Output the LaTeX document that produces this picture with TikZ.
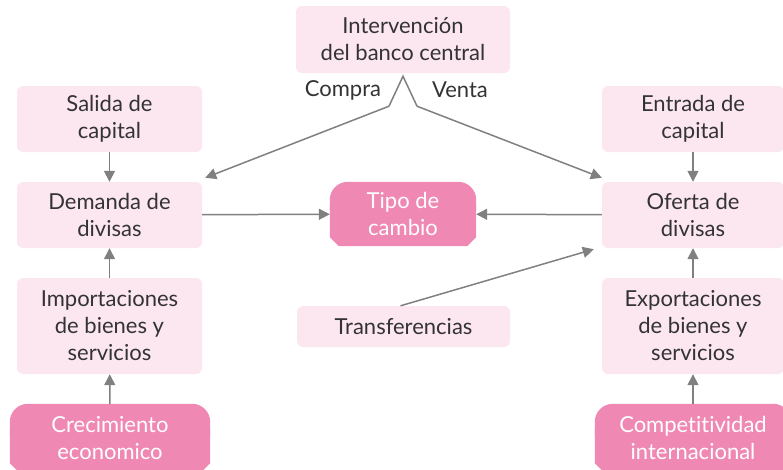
\documentclass[tikz,border=0pt]{standalone}
\usepackage{fontspec}
\setmainfont{Lato}[Ligatures=NoCommon]
\usepackage{tikz}
\usetikzlibrary{arrows.meta}
\usetikzlibrary{positioning}
\usetikzlibrary{backgrounds}
\definecolor{rosa}{HTML}{FCE7F0}
\definecolor{fucsia}{HTML}{F088B4}
\definecolor{flecha}{HTML}{808080}
\definecolor{texto}{HTML}{333333}
\tikzset{
  letra/.style={font=\fontsize{22}{27}\selectfont},
  caja/.style={letra, fill=rosa, rounded corners=6pt, align=center, text=texto, inner sep=0pt},
  fuerte/.style={letra, align=center, text=white, inner sep=0pt},
  flechita/.style={draw=flecha, line width=1.5pt, -{Triangle[length=11pt,width=11pt]}},
}

\begin{document}
\begin{tikzpicture}[x=1pt, y=-1pt] % Tipo de cambio y divisas

      \useasboundingbox (0,0) rectangle (783,469);
      \clip (0,0) rectangle (783,469);

      % columna izquierda
      \node [caja, minimum width=185pt, minimum height=66pt] (salida) at (109.5,119) {Salida de\\capital};
      \node [caja, minimum width=185pt, minimum height=66pt] (demanda) at (109.5,215) {Demanda de\\divisas};
      \node [caja, minimum width=185pt, minimum height=96pt] (import) at (109.5,326) {Importaciones\\de bienes y\\servicios};
      \node [fuerte, minimum width=200pt, minimum height=68pt] (crec) at (110,438) {Crecimiento\\economico};

      % columna derecha
      \node [caja, minimum width=182pt, minimum height=66pt] (entrada) at (693,119) {Entrada de\\capital};
      \node [caja, minimum width=182pt, minimum height=66pt] (oferta) at (693,215) {Oferta de\\divisas};
      \node [caja, minimum width=182pt, minimum height=96pt] (export) at (693,326) {Exportaciones\\de bienes y\\servicios};
      \node [fuerte, minimum width=196pt, minimum height=68pt] (compet) at (693,438) {Competitividad\\internacional};

      % centro
      \node [caja, minimum width=214pt, minimum height=67pt] (interv) at (403,39.5) {Intervención\\del banco central};
      \node [fuerte, minimum width=146pt, minimum height=64pt] (tipo) at (403,214) {Tipo de\\cambio};
      \node [caja, minimum width=213pt, minimum height=41pt] (transf) at (403.5,326.5) {Transferencias};
      \node [letra, text=texto] (compra) at (343,90) {Compra};
      \node [letra, text=texto] (venta) at (460,90) {Venta};

      \begin{scope}[on background layer]
        \foreach \n in {tipo, crec, compet} {
          \fill [fucsia, rounded corners=18pt] (\n.north west) rectangle ([yshift=20pt]\n.south east);
          \fill [fucsia] ([yshift=42pt]\n.south west) -- ([yshift=9pt]\n.south west)
            -- ([xshift=9pt]\n.south west) -- ([xshift=-9pt]\n.south east)
            -- ([yshift=9pt]\n.south east) -- ([yshift=42pt]\n.south east) -- cycle;
        }
      \end{scope}

      % flechas
      \draw [flechita] (salida) -- (demanda);
      \draw [flechita] (import) -- (demanda);
      \draw [flechita] (crec) -- (import);
      \draw [flechita] (entrada) -- (oferta);
      \draw [flechita] (export) -- (oferta);
      \draw [flechita] (compet) -- (export);
      \draw [flechita] (demanda) -- (tipo);
      \draw [flechita] (oferta) -- (tipo);
      \draw [flechita] ([xshift=-3pt]transf.north) -- ([xshift=-8pt,yshift=-1pt]oferta.south west);

      \coordinate (cima) at ([yshift=-3pt]interv.south);
      \coordinate (izq) at ([xshift=-14pt,yshift=-30pt]cima);
      \coordinate (der) at ([xshift=14pt,yshift=-30pt]cima);
      \draw [draw=flecha, line width=1.5pt] (izq) -- (cima) -- (der);
      \draw [flechita] (izq) -- ([xshift=3pt,yshift=4pt]demanda.north east);
      \draw [flechita] (der) -- ([yshift=4pt]oferta.north west);

    \end{tikzpicture}
\end{document}
